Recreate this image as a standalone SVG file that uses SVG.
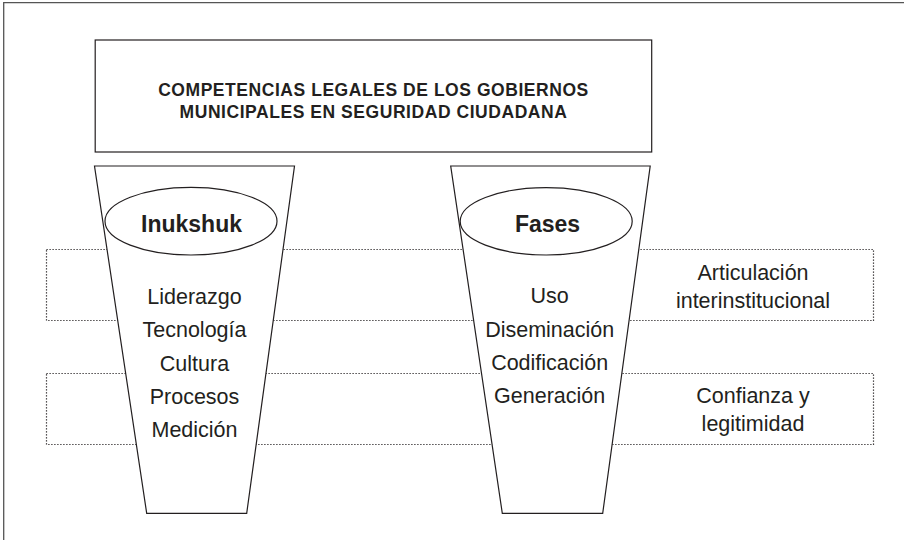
<svg xmlns="http://www.w3.org/2000/svg" width="904" height="540" viewBox="0 0 904 540">
<style>
.frame{fill:none;stroke:#555;stroke-width:1.3}
.box{fill:#fff;stroke:#231f20;stroke-width:1.2}
.dot{fill:none;stroke:#231f20;stroke-width:1.2;stroke-dasharray:1.2 1.8}
.t{font-family:"Liberation Sans",Arial,sans-serif;fill:#231f20;text-anchor:middle}
.title{font-size:17.5px;font-weight:bold;letter-spacing:0.55px}
.head{font-size:23px;font-weight:bold}
.item{font-size:21.5px}
</style>
<rect width="904" height="540" fill="#fff"/>
<path class="frame" d="M3.7,540 V2.7 H904"/>
<g id="band-articulacion">
<rect class="dot" x="46.5" y="249.5" width="827" height="71"/>
<text class="t item" x="753" y="280">Articulación</text>
<text class="t item" x="753" y="308.3">interinstitucional</text>
</g>
<g id="band-confianza">
<rect class="dot" x="46.5" y="373.5" width="827" height="71"/>
<text class="t item" x="753" y="402.7">Confianza y</text>
<text class="t item" x="753" y="431">legitimidad</text>
</g>
<g id="competencias">
<rect class="box" x="95.2" y="40" width="556.5" height="112"/>
<text class="t title" x="373.5" y="95.7">COMPETENCIAS LEGALES DE LOS GOBIERNOS</text>
<text class="t title" x="373.5" y="118.3">MUNICIPALES EN SEGURIDAD CIUDADANA</text>
</g>
<g id="inukshuk">
<polygon class="box" points="94.5,166 294.5,166 246.7,513.3 146.7,513.3"/>
<ellipse class="box" cx="191" cy="221.2" rx="86" ry="33.8"/>
<text class="t head" x="191.5" y="231.7">Inukshuk</text>
<text class="t item" x="194.5" y="304">Liderazgo</text>
<text class="t item" x="194.5" y="336.7">Tecnología</text>
<text class="t item" x="194.5" y="370.5">Cultura</text>
<text class="t item" x="194.5" y="404">Procesos</text>
<text class="t item" x="194.5" y="437.3">Medición</text>
</g>
<g id="fases">
<polygon class="box" points="450.7,166 650.2,166 602.7,513.3 502.3,513.3"/>
<ellipse class="box" cx="546.2" cy="221.3" rx="86" ry="33.7"/>
<text class="t head" x="547.5" y="231.7">Fases</text>
<text class="t item" x="549.7" y="303.3">Uso</text>
<text class="t item" x="549.7" y="336.7">Diseminación</text>
<text class="t item" x="549.7" y="370">Codificación</text>
<text class="t item" x="549.7" y="403.3">Generación</text>
</g>
</svg>
